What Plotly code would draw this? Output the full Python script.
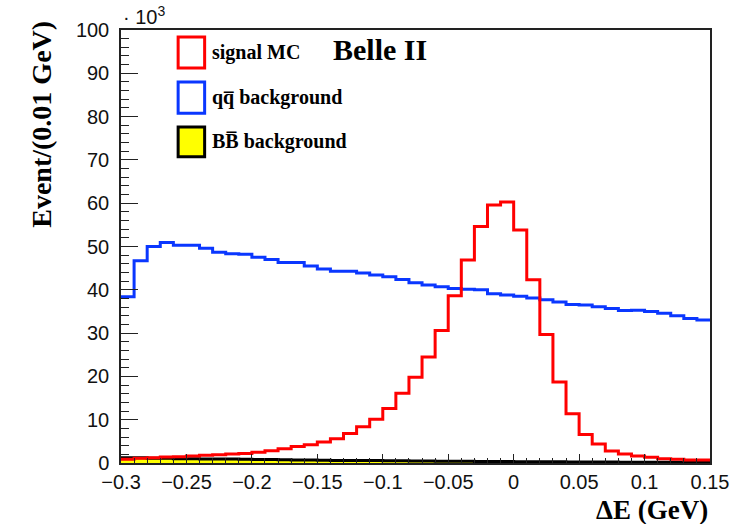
import numpy as np
import plotly.graph_objects as go

# Histogram binning: 45 bins of 0.01 GeV from -0.3 to 0.15
x_low = -0.30
bin_width = 0.01
n_bins = 45

# Bin contents (units of 10^3 events per 0.01 GeV)
signal_mc = [0.85, 1.1, 1.2, 1.4, 1.45, 1.6, 1.8, 1.9, 2.1, 2.2,
             2.5, 2.85, 3.3, 3.8, 4.2, 4.85, 5.6, 6.8, 8.4, 10.1,
             12.6, 16.1, 19.8, 24.5, 30.6, 38.6, 46.9, 54.6, 59.6, 60.3,
             53.8, 42.3, 29.7, 18.7, 11.4, 6.6, 4.4, 2.8, 2.1, 1.6,
             1.3, 1.0, 0.85, 0.7, 0.7]

qqbar_bkg = [38.4, 46.7, 50.0, 50.9, 50.3, 50.3, 49.6, 48.7, 48.3, 48.2,
             47.5, 47.0, 46.3, 46.3, 45.5, 44.8, 44.3, 44.3, 43.9, 43.4,
             43.0, 42.4, 41.6, 41.1, 40.7, 40.3, 40.1, 40.0, 39.1, 38.8,
             38.5, 38.1, 37.7, 37.2, 36.6, 36.5, 36.1, 35.7, 35.2, 35.3,
             35.0, 34.6, 34.0, 33.4, 33.0]

bbbar_bkg = [1.2, 1.2, 1.1, 1.1, 1.0, 1.0, 0.95, 0.9, 0.9, 0.85,
             0.8, 0.8, 0.75, 0.7, 0.7, 0.65, 0.6, 0.6, 0.55, 0.55,
             0.5, 0.5, 0.45, 0.45, 0.4, 0.4, 0.4, 0.35, 0.35, 0.35,
             0.3, 0.3, 0.3, 0.3, 0.25, 0.25, 0.25, 0.25, 0.2, 0.2,
             0.2, 0.2, 0.2, 0.2, 0.2]

x_ticks = [-0.3, -0.25, -0.2, -0.15, -0.1, -0.05, 0, 0.05, 0.1, 0.15]
x_tick_text = ["\u22120.3", "\u22120.25", "\u22120.2", "\u22120.15", "\u22120.1",
               "\u22120.05", "0", "0.05", "0.1", "0.15"]
y_ticks = [0, 10, 20, 30, 40, 50, 60, 70, 80, 90, 100]

edges = np.round(x_low + bin_width * np.arange(n_bins + 1), 4)


def step(values):
    return list(values) + [values[-1]]


RED = "#ff0000"
BLUE = "#0a37ff"
YELLOW = "#ffff00"
SERIF = "Liberation Serif"
SANS = "Liberation Sans"

fig = go.Figure()

fig.add_trace(go.Scatter(
    x=edges, y=step(bbbar_bkg), mode="lines", line_shape="hv",
    line=dict(color="black", width=3), fill="tozeroy", fillcolor=YELLOW,
    hoverinfo="skip", showlegend=False))
fig.add_trace(go.Scatter(
    x=edges, y=step(qqbar_bkg), mode="lines", line_shape="hv",
    line=dict(color=BLUE, width=3), hoverinfo="skip", showlegend=False))
fig.add_trace(go.Scatter(
    x=edges, y=step(signal_mc), mode="lines", line_shape="hv",
    line=dict(color=RED, width=3), hoverinfo="skip", showlegend=False))

# Legend boxes and labels (paper coordinates)
legend_rows = [
    ("signal MC", RED, "rgba(0,0,0,0)", 0.912, 0.984),
    ("qq\u0305 background", BLUE, "rgba(0,0,0,0)", 0.808, 0.880),
    ("BB\u0305 background", "black", YELLOW, 0.707, 0.776),
]
shapes = []
annotations = []
for label, lc, fc, y0, y1 in legend_rows:
    shapes.append(dict(type="rect", xref="paper", yref="paper",
                       x0=0.097, x1=0.142, y0=y0, y1=y1,
                       line=dict(color=lc, width=3), fillcolor=fc))
    annotations.append(dict(xref="paper", yref="paper", x=0.151, y=(y0 + y1) / 2,
                            xanchor="left", yanchor="middle", showarrow=False,
                            text="<b>%s</b>" % label,
                            font=dict(family=SERIF, size=20, color="black")))

annotations += [
    dict(xref="paper", yref="paper", x=0.357, y=0.955, xanchor="left", yanchor="middle",
         showarrow=False, text="<b>Belle II</b>",
         font=dict(family=SERIF, size=30, color="black")),
    dict(xref="paper", yref="paper", x=0.0, y=1.0, xanchor="left", yanchor="bottom",
         showarrow=False, text="\u00b7 10<sup>3</sup>",
         font=dict(family=SANS, size=20, color="#111")),
    dict(xref="paper", yref="paper", x=1.0, y=-0.108, xanchor="right", yanchor="middle",
         showarrow=False, text="<b>\u0394E (GeV)</b>",
         font=dict(family=SERIF, size=27, color="black")),
    dict(xref="paper", yref="paper", x=-0.134, y=1.025, xanchor="center", yanchor="top",
         showarrow=False, textangle=-90, text="<b>Event/(0.01 GeV)</b>",
         font=dict(family=SERIF, size=28, color="black")),
]

fig.update_layout(
    width=744, height=524,
    margin=dict(l=121, r=34, t=30, b=61),
    paper_bgcolor="white", plot_bgcolor="white",
    shapes=shapes, annotations=annotations,
    xaxis=dict(range=[-0.3, 0.15], tickvals=x_ticks, ticktext=x_tick_text,
               ticks="inside", ticklen=9, tickwidth=1.2, tickcolor="#222",
               minor=dict(dtick=0.01, tick0=-0.3, ticks="inside", ticklen=5,
                          tickwidth=1, tickcolor="#222"),
               showgrid=False, zeroline=False, showline=True, mirror=True,
               linecolor="#222", linewidth=1.5,
               tickfont=dict(family=SANS, size=20, color="#111"),
               ticklabelstandoff=0),
    yaxis=dict(range=[0, 100], tickvals=y_ticks,
               ticks="inside", ticklen=17, tickwidth=1.2, tickcolor="#222",
               minor=dict(dtick=2, tick0=0, ticks="inside", ticklen=8,
                          tickwidth=1, tickcolor="#222"),
               showgrid=False, zeroline=False, showline=True, mirror=True,
               linecolor="#222", linewidth=1.5,
               tickfont=dict(family=SANS, size=20, color="#111"),
               ticklabelstandoff=6),
)

fig.write_html("out.html")
